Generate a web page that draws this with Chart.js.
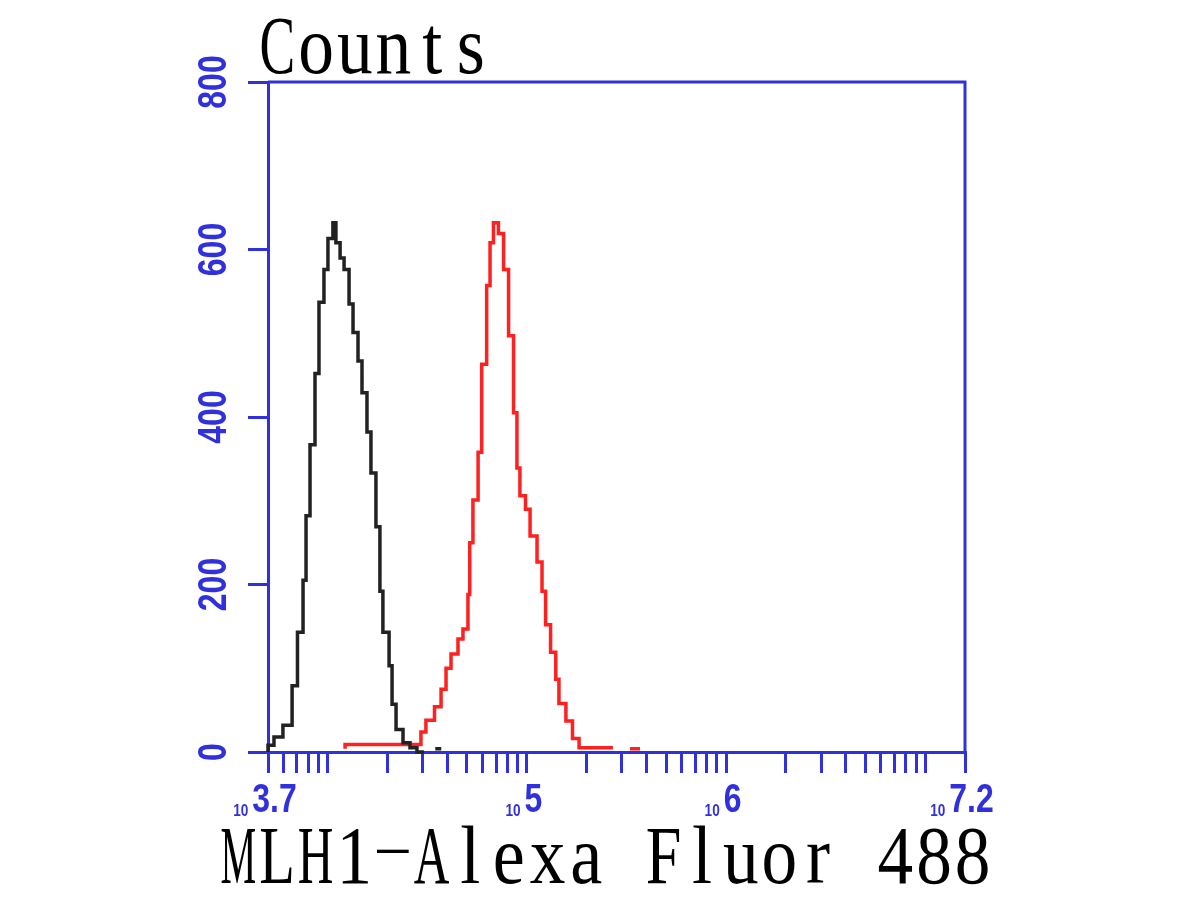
<!DOCTYPE html>
<html>
<head>
<meta charset="utf-8">
<script src="https://cdn.jsdelivr.net/npm/chart.js@4.4.1/dist/chart.umd.min.js"></script>
<style>
  html, body { margin: 0; padding: 0; background: #fff; }
  #wrap { width: 1200px; height: 900px; }
</style>
</head>
<body>
<div id="wrap"><canvas id="myChart" width="1200" height="900"></canvas></div>
<script>
// histogram steps: log10(intensity) where a step starts, and its count
const controlLog = [3.700, 3.730, 3.775, 3.821, 3.848, 3.876, 3.891, 3.911, 3.936, 3.956, 3.981, 4.001, 4.026, 4.041,
  4.062, 4.082, 4.107, 4.127, 4.152, 4.172, 4.197, 4.217, 4.242, 4.262, 4.277, 4.308, 4.323, 4.343, 4.378, 4.413,
  4.448, 4.483, 4.500, 4.540, 4.570];
const controlCounts = [0, 8, 18, 32, 79, 143, 205, 282, 367, 452, 537, 576, 613, 632,
  608, 590, 576, 535, 501, 467, 429, 382, 333, 269, 192, 143, 103, 57, 27, 11,
  5, 0, null, 4, 4];

const mlh1Log = [4.087, 4.468, 4.493, 4.536, 4.569, 4.594, 4.619, 4.654, 4.679, 4.704, 4.713, 4.729, 4.755, 4.773,
  4.798, 4.815, 4.832, 4.857, 4.883, 4.908, 4.933, 4.950, 4.965, 4.993, 5.016, 5.051, 5.076, 5.094, 5.119, 5.145,
  5.161, 5.196, 5.229, 5.262, 5.280, 5.432, 5.440, 5.518, 5.568];
const mlh1Counts = [4, 9, 24, 38, 54, 75, 100, 117, 135, 147, 188, 250, 301, 358,
  463, 557, 608, 632, 619, 576, 497, 405, 339, 306, 290, 258, 227, 192, 152, 119,
  87, 58, 37, 16, 5, 5, null, 4, 4];

const yTicks = [0, 200, 400, 600, 800];
const xMinLog = 3.7, xMaxLog = 7.2;
const xLabelExps = ['3.7', '5', '6', '7.2'];
const yTitle = 'Counts';
const xTitle = 'MLH1-Alexa Fluor 488';

const blue = '#3030dc';
const numFont = '"Liberation Sans", Arial, sans-serif';
const titleFont = '"Liberation Serif", "Times New Roman", serif';

const toPoints = (logs, counts) => logs.map((v, i) => ({ x: Math.pow(10, v), y: counts[i] }));

// minor ticks at every k*10^n inside the range, plus both ends
const xTickValues = [Math.pow(10, xMinLog)];
for (let n = 3; n <= 7; n++) {
  for (let k = 1; k <= 9; k++) {
    const v = k * Math.pow(10, n);
    if (v > Math.pow(10, xMinLog) && v < Math.pow(10, xMaxLog)) xTickValues.push(v);
  }
}
xTickValues.push(Math.pow(10, xMaxLog));

// draws text in fixed-width cells, like the original bitmap font
function drawMono(ctx, text, left, baseline, cell) {
  ctx.font = '82px ' + titleFont;
  ctx.fillStyle = '#000';
  ctx.textAlign = 'center';
  ctx.textBaseline = 'alphabetic';
  [...text].forEach((ch, i) => {
    if (ch === ' ') return;
    const w = ctx.measureText(ch).width;
    const cx = left + cell * (i + 0.5);
    ctx.save();
    if (ch === '-') {
      // long thin dash, sitting mid-height
      ctx.translate(cx, baseline - 31);
      ctx.scale((cell + 2) / w, 0.55);
      ctx.fillText(ch, 0, 18.5);
    } else {
      const s = Math.min(0.88, (cell - 3) / w);
      ctx.translate(cx, baseline);
      ctx.scale(s, 1);
      ctx.fillText(ch, 0, 0);
    }
    ctx.restore();
  });
}

const decor = {
  id: 'decor',
  afterDraw(chart) {
    const { ctx, chartArea: a, scales: { x, y } } = chart;
    ctx.save();
    // top and right frame
    ctx.strokeStyle = blue;
    ctx.lineWidth = 3;
    ctx.beginPath();
    ctx.moveTo(a.left, a.top);
    ctx.lineTo(a.right, a.top);
    ctx.lineTo(a.right, a.bottom);
    ctx.stroke();

    ctx.fillStyle = blue;
    ctx.textBaseline = 'alphabetic';
    // y tick labels, rotated
    ctx.font = 'bold 40px ' + numFont;
    ctx.textAlign = 'center';
    yTicks.forEach(v => {
      ctx.save();
      ctx.translate(a.left - 42, y.getPixelForValue(v));
      ctx.rotate(-Math.PI / 2);
      ctx.scale(0.8, 1);
      ctx.fillText(String(v), 0, 0);
      ctx.restore();
    });
    // x tick labels: small "10" then the exponent
    ctx.textAlign = 'left';
    xLabelExps.forEach(e => {
      const px = x.getPixelForValue(Math.pow(10, parseFloat(e)));
      ctx.font = 'bold 16px ' + numFont;
      const w1 = ctx.measureText('10').width * 0.85;
      ctx.font = 'bold 40px ' + numFont;
      const w2 = ctx.measureText(e).width * 0.8;
      const start = px - 3 - (w1 + 4 + w2) / 2;
      ctx.save();
      ctx.translate(start, a.bottom + 64);
      ctx.scale(0.85, 1);
      ctx.font = 'bold 16px ' + numFont;
      ctx.fillText('10', 0, 0);
      ctx.restore();
      ctx.save();
      ctx.translate(start + w1 + 4, a.bottom + 60);
      ctx.scale(0.8, 1);
      ctx.font = 'bold 40px ' + numFont;
      ctx.fillText(e, 0, 0);
      ctx.restore();
    });

    drawMono(ctx, yTitle, a.left - 10, a.top - 9, 38.7);
    const xCell = 38.65;
    drawMono(ctx, xTitle, (a.left + a.right) / 2 - 11 - xCell * xTitle.length / 2, a.bottom + 131, xCell);
    ctx.restore();
  }
};

const ctx = document.getElementById('myChart');

new Chart(ctx, {
  type: 'line',
  data: {
    datasets: [
      {
        label: 'control',
        data: toPoints(controlLog, controlCounts),
        borderColor: '#222222',
        borderWidth: 3.5,
        stepped: 'after',
        pointRadius: 0,
        spanGaps: false,
        clip: 4
      },
      {
        label: 'MLH1',
        data: toPoints(mlh1Log, mlh1Counts),
        borderColor: '#ff2020',
        borderWidth: 3.5,
        stepped: 'after',
        pointRadius: 0,
        spanGaps: false,
        clip: 4
      }
    ]
  },
  options: {
    responsive: false,
    animation: false,
    events: [],
    layout: { padding: { top: 82, right: 235, bottom: 0, left: 0 } },
    plugins: {
      legend: { display: false },
      tooltip: { enabled: false }
    },
    scales: {
      x: {
        type: 'logarithmic',
        min: Math.pow(10, xMinLog),
        max: Math.pow(10, xMaxLog),
        afterBuildTicks: s => { s.ticks = xTickValues.map(v => ({ value: v })); },
        afterFit: s => { s.height = 148; },
        ticks: { display: false },
        grid: { drawOnChartArea: false, color: blue, lineWidth: 3, tickLength: 21 },
        border: { color: blue, width: 3 }
      },
      y: {
        min: 0,
        max: 800,
        afterBuildTicks: s => { s.ticks = yTicks.map(v => ({ value: v })); },
        afterFit: s => { s.width = 268; },
        ticks: { display: false },
        grid: { drawOnChartArea: false, color: blue, lineWidth: 3, tickLength: 20 },
        border: { color: blue, width: 3 }
      }
    }
  },
  plugins: [decor]
});
</script>
</body>
</html>
